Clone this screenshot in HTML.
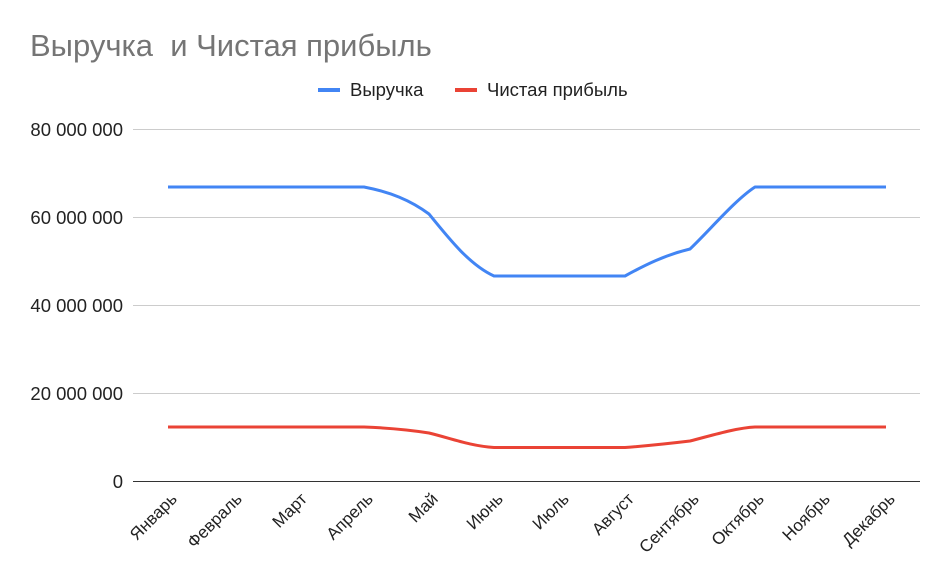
<!DOCTYPE html>
<html><head><meta charset="utf-8"><style>body{margin:0;background:#fff}svg{display:block}text{font-family:"Liberation Sans",Arial,sans-serif}</style></head><body>
<svg width="950" height="587" viewBox="0 0 950 587" xmlns="http://www.w3.org/2000/svg">
<rect width="950" height="587" fill="#fff"/>
<text x="30" y="56" font-size="31" fill="#757575" xml:space="preserve" style="white-space:pre">Выручка  и Чистая прибыль</text>
<line x1="318" y1="90" x2="340" y2="90" stroke="#4285f4" stroke-width="4"/>
<text x="350" y="96" font-size="18.5" fill="#222">Выручка</text>
<line x1="455" y1="90" x2="477" y2="90" stroke="#ea4335" stroke-width="4"/>
<text x="487" y="96" font-size="18.5" fill="#222">Чистая прибыль</text>
<g stroke="#ccc" stroke-width="1">
<line x1="133" y1="129.5" x2="920" y2="129.5"/><line x1="133" y1="217.5" x2="920" y2="217.5"/><line x1="133" y1="305.5" x2="920" y2="305.5"/><line x1="133" y1="393.5" x2="920" y2="393.5"/></g>
<line x1="133" y1="481.5" x2="920" y2="481.5" stroke="#333" stroke-width="1"/>
<g font-size="18.5" fill="#222" text-anchor="end">
<text x="123" y="136">80 000 000</text><text x="123" y="224">60 000 000</text><text x="123" y="312">40 000 000</text><text x="123" y="400">20 000 000</text><text x="123" y="488">0</text></g>
<path d="M168,187 L233,187 L298,187 L364,187 C390,192 410,200 429,214 C450,240 470,265 494,276 L560,276 L625,276 C645,265 665,255 690,249 C710,230 735,200 755,187 L821,187 L886,187" fill="none" stroke="#4285f4" stroke-width="3" stroke-linejoin="round"/>
<path d="M168,427 L233,427 L298,427 L364,427 C390,428 410,430 429,433 C450,438 470,446 494,447.5 L560,447.5 L625,447.5 C645,446 665,444 690,441 C710,436 735,428 755,427 L821,427 L886,427" fill="none" stroke="#ea4335" stroke-width="3" stroke-linejoin="round"/>
<g font-size="17" fill="#222" text-anchor="end">
<text transform="translate(178,500) rotate(-45)">Январь</text>
<text transform="translate(243,500) rotate(-45)">Февраль</text>
<text transform="translate(308,500) rotate(-45)">Март</text>
<text transform="translate(374,500) rotate(-45)">Апрель</text>
<text transform="translate(439,500) rotate(-45)">Май</text>
<text transform="translate(504,500) rotate(-45)">Июнь</text>
<text transform="translate(570,500) rotate(-45)">Июль</text>
<text transform="translate(635,500) rotate(-45)">Август</text>
<text transform="translate(700,500) rotate(-45)">Сентябрь</text>
<text transform="translate(765,500) rotate(-45)">Октябрь</text>
<text transform="translate(831,500) rotate(-45)">Ноябрь</text>
<text transform="translate(896,500) rotate(-45)">Декабрь</text>
</g>
</svg>
</body></html>
